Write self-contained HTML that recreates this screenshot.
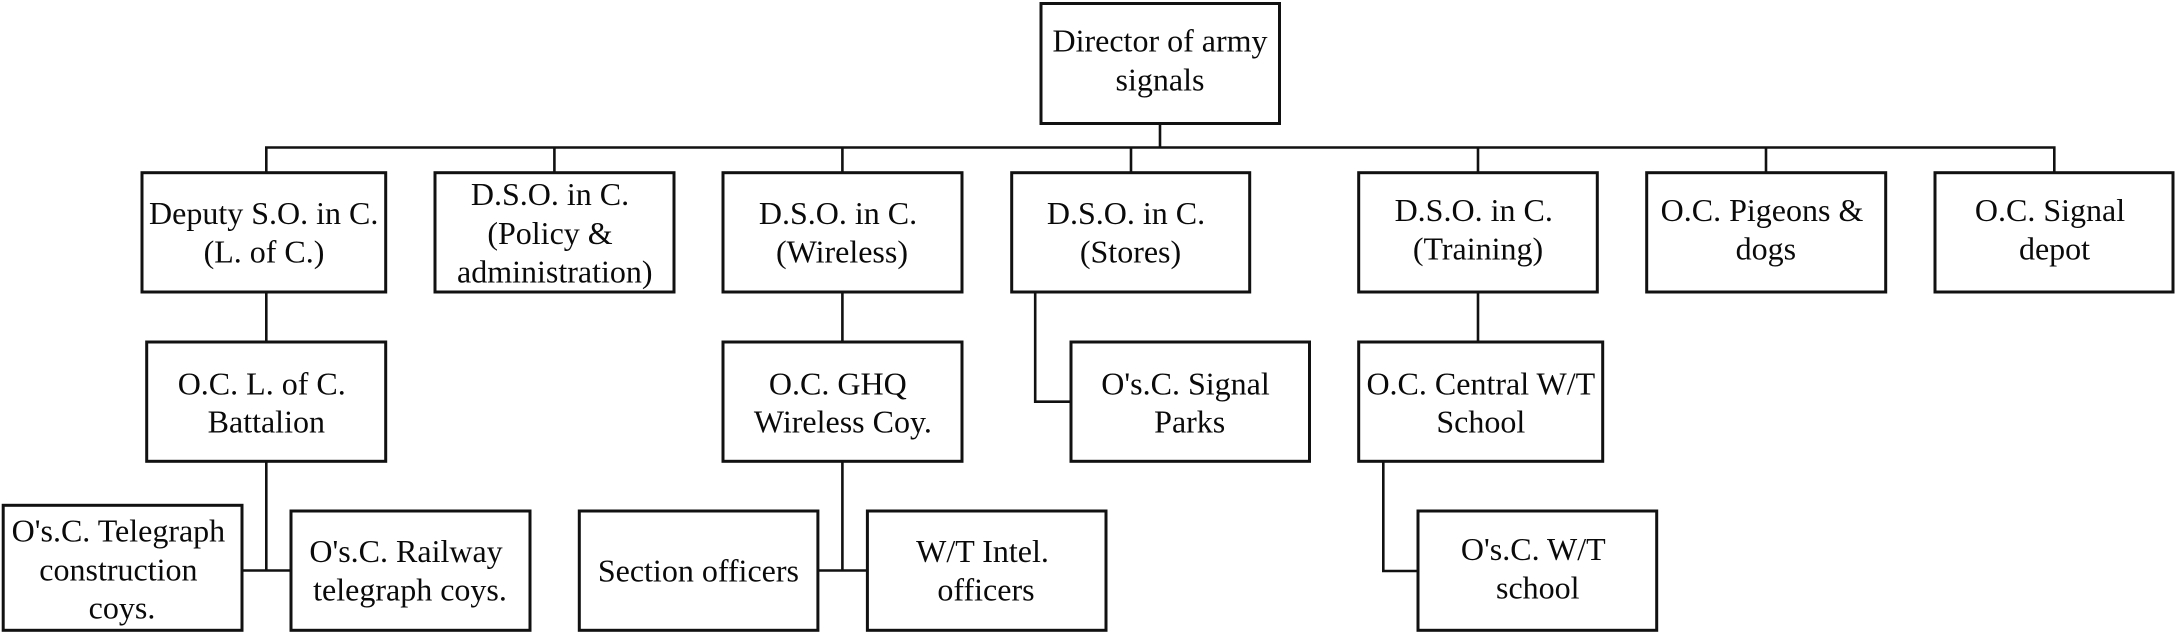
<!DOCTYPE html>
<html>
<head>
<meta charset="utf-8">
<style>
html,body{margin:0;padding:0;background:#fff;width:2177px;height:634px;overflow:hidden}
svg{display:block}
text{font-family:"Liberation Serif",serif;font-size:32px;fill:#0a0a0a;text-anchor:middle}
rect{fill:#fff;stroke:#111;stroke-width:3}
path{fill:none;stroke:#111;stroke-width:2.6}
</style>
</head>
<body>
<svg width="2177" height="634" viewBox="0 0 2177 634" xmlns="http://www.w3.org/2000/svg">
<path d="M1160 123V147.5M266.3 172.7V147.5H2054.3V172.7M554.4 147.5V172.7M842.4 147.5V172.7M1131 147.5V172.7M1478 147.5V172.7M1766 147.5V172.7"/>
<path d="M266.3 292V342M842.4 292V342M1478 292V342"/>
<path d="M1035.2 292V401.7H1071"/>
<path d="M266.3 461V570.5M242 570.5H291"/>
<path d="M842.4 461V570.5M818 570.5H867.4"/>
<path d="M1383.3 461V571H1418"/>

<rect x="1041" y="3.5" width="238.5" height="120"/>
<rect x="142" y="172.7" width="243.7" height="119.3"/>
<rect x="435" y="172.7" width="239" height="119.3"/>
<rect x="723" y="172.7" width="239" height="119.3"/>
<rect x="1011.7" y="172.7" width="238" height="119.3"/>
<rect x="1358.7" y="172.7" width="238.6" height="119.3"/>
<rect x="1646.7" y="172.7" width="239" height="119.3"/>
<rect x="1935" y="172.7" width="238" height="119.3"/>

<rect x="146.7" y="342" width="239" height="119.3"/>
<rect x="723" y="342" width="239" height="119.3"/>
<rect x="1071" y="342" width="238.5" height="119.3"/>
<rect x="1358.7" y="342" width="244" height="119.3"/>

<rect x="3.2" y="505.3" width="238.8" height="125"/>
<rect x="291" y="511" width="239" height="119.3"/>
<rect x="579.3" y="511" width="238.6" height="119.3"/>
<rect x="867.4" y="511" width="238.6" height="119.3"/>
<rect x="1418" y="511" width="238.7" height="119.3"/>

<text x="1160" y="51.7">Director of army</text>
<text x="1160" y="90.7">signals</text>

<text x="263.7" y="224">Deputy S.O. in C.</text>
<text x="264" y="262.3">(L. of C.)</text>

<text x="550" y="205">D.S.O. in C.</text>
<text x="550" y="244">(Policy &amp;</text>
<text x="554.8" y="282.5">administration)</text>

<text x="838" y="224">D.S.O. in C.</text>
<text x="842" y="262.3">(Wireless)</text>

<text x="1126" y="224">D.S.O. in C.</text>
<text x="1130.5" y="262.3">(Stores)</text>

<text x="1473.7" y="221">D.S.O. in C.</text>
<text x="1478" y="259.3">(Training)</text>

<text x="1762" y="221">O.C. Pigeons &amp;</text>
<text x="1765.8" y="259.3">dogs</text>

<text x="2050" y="221">O.C. Signal</text>
<text x="2054.5" y="259.3">depot</text>

<text x="261.7" y="394.3">O.C. L. of C.</text>
<text x="266.3" y="432.5">Battalion</text>

<text x="837.8" y="394.3">O.C. GHQ</text>
<text x="842.9" y="432.5">Wireless Coy.</text>

<text x="1185.5" y="394.3">O's.C. Signal</text>
<text x="1189.7" y="432.5">Parks</text>

<text x="1480.8" y="394.3">O.C. Central W/T</text>
<text x="1480.8" y="432.5">School</text>

<text x="118.4" y="541.3">O's.C. Telegraph</text>
<text x="118.4" y="580.3">construction</text>
<text x="122" y="618.7">coys.</text>

<text x="406" y="562">O's.C. Railway</text>
<text x="410" y="600.3">telegraph coys.</text>

<text x="698.4" y="581.3">Section officers</text>

<text x="982.5" y="562">W/T Intel.</text>
<text x="986" y="600.3">officers</text>

<text x="1533.3" y="560">O's.C. W/T</text>
<text x="1537.8" y="598.3">school</text>
</svg>
</body>
</html>
